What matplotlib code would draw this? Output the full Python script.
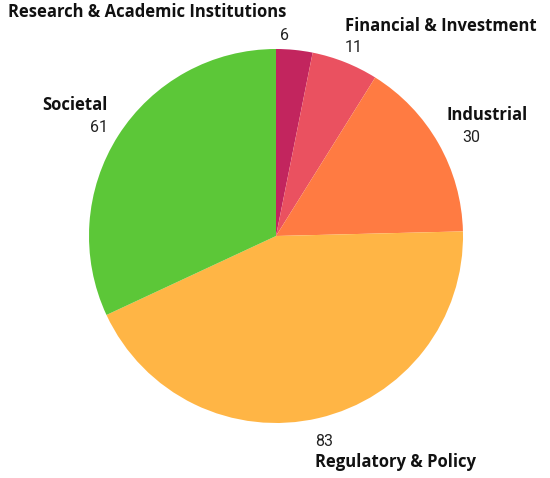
import matplotlib.pyplot as plt

categories = ["Research & Academic Institutions", "Financial & Investment",
              "Industrial", "Regulatory & Policy", "Societal"]
values = [6, 11, 30, 83, 61]
colors = ["#C2255E", "#EA5160", "#FF7B42", "#FFB545", "#5CC738"]

# label / value text positions in pixels of the 550x478 picture
label_px = [(8, 12, "left"), (345, 26, "left"), (528, 115, "right"),
            (315, 462, "left"), (108, 105, "right")]
value_px = [(289, 35, "right"), (345, 48, "left"), (480, 137, "right"),
            (315, 441, "left"), (108, 128, "right")]

W, H = 550, 478
cx, cy, r = 276, 236, 187

fig = plt.figure(figsize=(W / 100, H / 100), dpi=100)
ax = fig.add_axes([(cx - r) / W, 1 - (cy + r) / H, 2 * r / W, 2 * r / H])
ax.pie(values, colors=colors, startangle=90, counterclock=False,
       wedgeprops=dict(linewidth=0))
ax.set_xlim(-1, 1)
ax.set_ylim(-1, 1)
ax.set_aspect("equal")
ax.axis("off")

for cat, (x, y, ha) in zip(categories, label_px):
    fig.text(x / W, 1 - y / H, cat, ha=ha, va="center", fontsize=12,
             fontweight="bold", family="Open Sans", color="#111111")
for v, (x, y, ha) in zip(values, value_px):
    fig.text(x / W, 1 - y / H, str(v), ha=ha, va="center", fontsize=11.5,
             family="Roboto", color="#222222")

fig.savefig("out.png", dpi=100)
